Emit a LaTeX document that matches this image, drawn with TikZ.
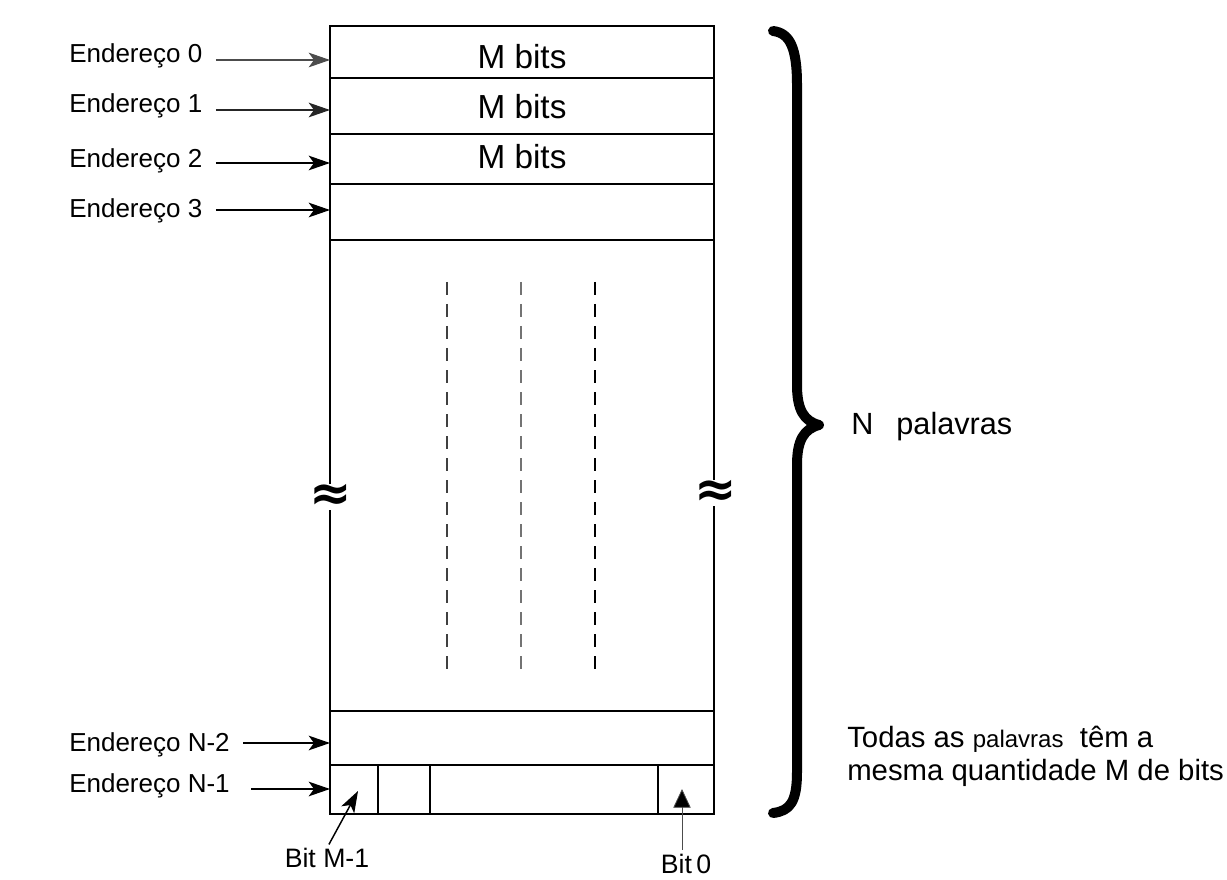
\documentclass[tikz,border=0pt]{standalone}
\usepackage{fontspec}
\setmainfont{Liberation Sans}
\newfontfamily\symfont{DejaVu Sans}
\usetikzlibrary{arrows.meta}
\begin{document}
\begin{tikzpicture}[x=0.75pt,y=-0.75pt,
  mem/.style={line width=1pt},
  lbl/.style={font=\fontsize{19.5}{22}\selectfont, inner sep=0pt, anchor=base west},
  addr/.style={line width=1.1pt, shorten <=10pt, -{Stealth[length=16pt,width=11pt,inset=4pt]}},
  wordtxt/.style={font=\fontsize{25}{28}\selectfont, inner sep=0pt},
  bittxt/.style={font=\fontsize{20}{22}\selectfont, inner sep=0pt},
  wavy/.style={font=\symfont\bfseries\fontsize{38}{38}\selectfont, inner sep=0pt, fill=white},
  colsep/.style={dash pattern=on 10pt off 6.5pt},
  note/.style={font=\fontsize{22}{24}\selectfont, inner sep=0pt, anchor=base west}
]
\useasboundingbox (0,0) rectangle (1227,880);

% break marks on the two long sides
\node[wavy] (wl) at (331,497) {≈};
\node[wavy] (wr) at (716,493) {≈};

% memory array outline, interrupted at the break marks
\draw[mem] (wl.north -| 330,0) -- (330,26) -- (714,26) -- (wr.north -| 714,0);
\draw[mem] (wl.south -| 330,0) -- (330,814) -- (714,814) -- (wr.south -| 714,0);
\foreach \y in {78,134,184,240,711,765}
  \draw[mem] (330,\y) -- (714,\y);
\foreach \x in {378,430,658}
  \draw[mem] (\x,765) -- (\x,814);

% word contents
\node[wordtxt] (w0) at (522,57) {M bits};
\node[wordtxt] (w1) at (522,107) {M bits};
\node[wordtxt] (w2) at (522,157) {M bits};

% bit columns continuing through the elided words
\draw[colsep, line width=1pt, black!75] (447,282) -- (447,678);
\draw[colsep, line width=0.8pt, black!55] (521,282) -- (521,678);
\draw[colsep, line width=1.5pt] (595,282) -- (595,678);

% address labels and their arrows
\coordinate (t0) at (330,60);
\coordinate (t1) at (330,110);
\coordinate (t2) at (330,163);
\coordinate (t3) at (330,210);
\coordinate (tn2) at (330,743);
\coordinate (tn1) at (330,789);
\node[lbl] (l0) at (69,63) {Endereço 0};
\node[lbl] (l1) at (69,113) {Endereço 1};
\node[lbl] (l2) at (69,168) {Endereço 2};
\node[lbl] (l3) at (69,218) {Endereço 3};
\node[lbl] (ln2) at (69,751) {Endereço N-2};
\node[lbl] (ln1) at (69,792) {Endereço N-1};
\draw[addr, black!70, line width=0.8pt] (l0.east |- t0) -- (t0);
\draw[addr, black!85] (l1.east |- t1) -- (t1);
\draw[addr] (l2.east |- t2) -- (t2);
\draw[addr] (l3.east |- t3) -- (t3);
\draw[addr] (ln2.east |- tn2) -- (tn2);
\draw[addr, shorten <=16pt] (ln1.east |- tn1) -- (tn1);

% bit position labels
\node[bittxt] (bm1) at (327,858) {Bit M-1};
\node[bittxt] (b0) at (686,864) {Bit\,0};
\coordinate (tbm1) at (358,791);
\coordinate (tb0) at (682,789);
\draw[line width=1.1pt, shorten <=3pt, -{Stealth[length=16pt,width=11pt,inset=4pt]}] (bm1.north) -- (tbm1);
\draw[line width=0.6pt, black!70, shorten <=3pt, -{Triangle[length=14pt,width=13pt,fill=black]}] (tb0 |- b0.north) -- (tb0);

% brace spanning all words
\draw[line width=7.5pt, line cap=round, line join=round]
  (773,31) .. controls (790,33) and (797,48) .. (797,85)
  -- (797,385) .. controls (797,410) and (804,421) .. (819,425)
  .. controls (804,429) and (797,440) .. (797,465)
  -- (797,772) .. controls (797,802) and (790,811) .. (773,813);
\coordinate (brace tip) at (819,425);

\node[font=\fontsize{23}{26}\selectfont, inner sep=0pt, anchor=base west] (np) at (851,434) {N\hspace{0.75em}palavras};
\node[note] (n1) at (847,747) {Todas as {\fontsize{18}{20}\selectfont palavras} \ têm a};
\node[note] (n2) at (847,780) {mesma quantidade M de bits};
\end{tikzpicture}
\end{document}
